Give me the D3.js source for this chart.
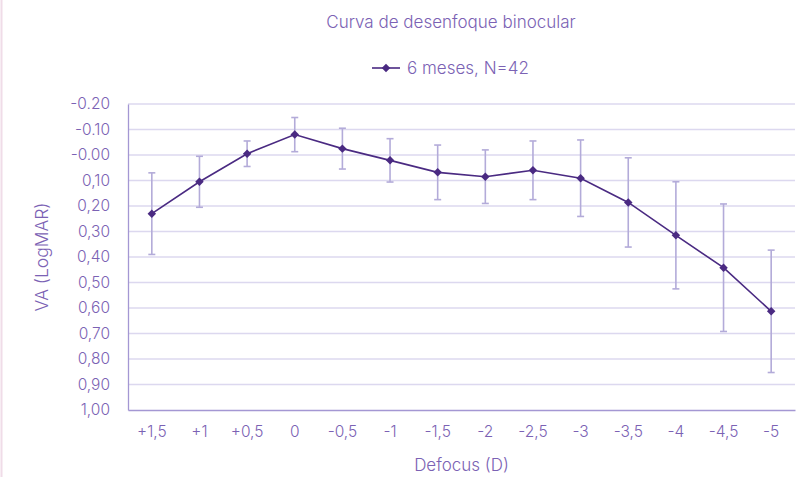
<!DOCTYPE html>
<html>
<head>
<meta charset="utf-8">
<script src="https://cdn.jsdelivr.net/npm/d3@7"></script>
<style>
  body { margin: 0; background: #fff; }
  text { font-family: Inter, "Open Sans", sans-serif; font-weight: 300; fill: #7b62b4; }
</style>
</head>
<body>
<div id="chart"></div>
<script>
// Defocus categories and binocular VA (LogMAR) means with error bar half-widths
const defocus = ["+1,5", "+1", "+0,5", "0", "-0,5", "-1", "-1,5", "-2", "-2,5", "-3", "-3,5", "-4", "-4,5", "-5"];
const vaMean = [0.23, 0.105, -0.005, -0.08, -0.025, 0.021, 0.068, 0.085, 0.06, 0.091, 0.186, 0.315, 0.442, 0.613];
const vaErr = [0.16, 0.10, 0.05, 0.067, 0.08, 0.085, 0.107, 0.105, 0.115, 0.15, 0.175, 0.21, 0.25, 0.24];
const yTicks = [-0.2, -0.1, 0, 0.1, 0.2, 0.3, 0.4, 0.5, 0.6, 0.7, 0.8, 0.9, 1.0];
const yTickLabels = ["-0.20", "-0.10", "-0.00", "0,10", "0,20", "0,30", "0,40", "0,50", "0,60", "0,70", "0,80", "0,90", "1,00"];

const width = 808, height = 477;
const margin = { top: 104, right: 13, bottom: 67, left: 128 };
const w = width - margin.left - margin.right;
const h = height - margin.top - margin.bottom;

const lineColor = "#4a2a82";
const errColor = "#b3abd9";
const gridColor = "#dcd8ef";
const axisColor = "#a497d3";

const svg = d3.select("#chart").append("svg")
    .attr("width", width)
    .attr("height", height);

// faint border line at the left edge
svg.append("line")
    .attr("x1", 1.5).attr("x2", 1.5).attr("y1", 0).attr("y2", height)
    .attr("stroke", "#f0dce8").attr("stroke-width", 2);

const g = svg.append("g").attr("transform", `translate(${margin.left},${margin.top})`);

const x = d3.scaleBand().domain(defocus).range([0, w]);
const y = d3.scaleLinear().domain([-0.2, 1.0]).range([0, h]);

// Gridlines
g.selectAll(".grid")
    .data(yTicks.slice(0, -1))
    .join("line")
    .attr("class", "grid")
    .attr("x1", 0).attr("x2", w)
    .attr("y1", d => y(d)).attr("y2", d => y(d))
    .attr("stroke", gridColor).attr("stroke-width", 1.3);

// Axes
const yAxis = g.append("g")
    .call(d3.axisLeft(y).tickValues(yTicks).tickFormat((d, i) => yTickLabels[i]).tickSize(0).tickPadding(18));
yAxis.select(".domain").attr("stroke", axisColor).attr("stroke-width", 1.3);
yAxis.selectAll("text").style("font-size", "15.5px").style("font-family", "Inter, sans-serif").attr("fill", "#7b62b4");

const xAxis = g.append("g")
    .attr("transform", `translate(0,${h})`)
    .call(d3.axisBottom(x).tickSize(0).tickPadding(16));
xAxis.select(".domain").attr("stroke", axisColor).attr("stroke-width", 1.3);
xAxis.selectAll("text").style("font-size", "15.5px").style("font-family", "Inter, sans-serif").attr("fill", "#7b62b4");

// Error bars
const cx = d => x(d) + x.bandwidth() / 2;
const errs = g.selectAll(".err")
    .data(defocus.map((d, i) => ({ d, m: vaMean[i], e: vaErr[i] })))
    .join("g").attr("class", "err")
    .attr("stroke", errColor).attr("stroke-width", 1.6);
errs.append("line")
    .attr("x1", d => cx(d.d)).attr("x2", d => cx(d.d))
    .attr("y1", d => y(d.m - d.e)).attr("y2", d => y(d.m + d.e));
errs.append("line")
    .attr("x1", d => cx(d.d) - 3.5).attr("x2", d => cx(d.d) + 3.5)
    .attr("y1", d => y(d.m - d.e)).attr("y2", d => y(d.m - d.e));
errs.append("line")
    .attr("x1", d => cx(d.d) - 3.5).attr("x2", d => cx(d.d) + 3.5)
    .attr("y1", d => y(d.m + d.e)).attr("y2", d => y(d.m + d.e));

// Line
g.append("path")
    .datum(defocus.map((d, i) => [cx(d), y(vaMean[i])]))
    .attr("fill", "none")
    .attr("stroke", lineColor)
    .attr("stroke-width", 1.6)
    .attr("d", d3.line());

// Diamond markers
const diamond = d3.symbol().type(d3.symbolDiamond2).size(46);
g.selectAll(".pt")
    .data(defocus.map((d, i) => ({ d, m: vaMean[i] })))
    .join("path").attr("class", "pt")
    .attr("d", diamond)
    .attr("transform", d => `translate(${cx(d.d)},${y(d.m)})`)
    .attr("fill", lineColor);

// Title
svg.append("text")
    .attr("x", 451).attr("y", 28)
    .attr("text-anchor", "middle")
    .style("font-size", "17px")
    .text("Curva de desenfoque binocular");

// Legend
const leg = svg.append("g").attr("transform", "translate(372,68)");
leg.append("line").attr("x1", 0).attr("x2", 28).attr("y1", 0).attr("y2", 0)
    .attr("stroke", lineColor).attr("stroke-width", 1.6);
leg.append("path").attr("d", diamond).attr("transform", "translate(14,0)").attr("fill", lineColor);
leg.append("text").attr("x", 35).attr("y", 0).attr("dy", "0.35em")
    .style("font-size", "17px")
    .text("6 meses, N=42");

// Axis titles
svg.append("text")
    .attr("x", (margin.left + width - margin.right) / 2).attr("y", 471)
    .attr("text-anchor", "middle")
    .style("font-size", "17px")
    .text("Defocus (D)");

svg.append("text")
    .attr("transform", `translate(48,${margin.top + h / 2}) rotate(-90)`)
    .attr("text-anchor", "middle")
    .style("font-size", "17.5px")
    .text("VA (LogMAR)");
</script>
</body>
</html>
